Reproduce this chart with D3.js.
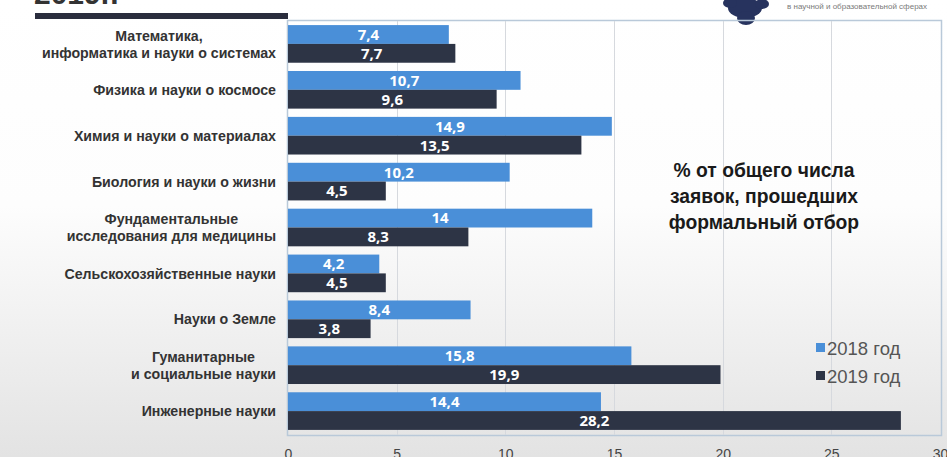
<!DOCTYPE html>
<html lang="ru">
<head>
<meta charset="utf-8">
<script src="https://cdn.jsdelivr.net/npm/d3@7"></script>
<style>
  html, body { margin: 0; padding: 0; background: #fff; }
  svg { display: block; }
</style>
</head>
<body>
<svg id="chart" width="947" height="457"></svg>
<script>
// Categories (each entry is a list of text lines), top to bottom
const categories = [
  ["Математика,", "информатика и науки о системах"],
  ["Физика и науки о космосе"],
  ["Химия и науки о материалах"],
  ["Биология и науки о жизни"],
  ["Фундаментальные", "исследования для медицины"],
  ["Сельскохозяйственные науки"],
  ["Науки о Земле"],
  ["Гуманитарные", "и социальные науки"],
  ["Инженерные науки"]
];
const values2018 = [7.4, 10.7, 14.9, 10.2, 14, 4.2, 8.4, 15.8, 14.4];
const values2019 = [7.7, 9.6, 13.5, 4.5, 8.3, 4.5, 3.8, 19.9, 28.2];
const seriesNames = ["2018 год", "2019 год"];
const xTicks = [0, 5, 10, 15, 20, 25, 30];
const noteLines = ["% от общего числа", "заявок, прошедших", "формальный отбор"];

const W = 947, H = 457;
const colors = ["#4a8fd8", "#2d3445"];
const fontFamily = "'Liberation Sans', Arial, sans-serif";

const svg = d3.select("#chart");

// Slide background: white fading to light grey toward the bottom
const defs = svg.append("defs");
const bg = defs.append("linearGradient").attr("id", "bgGrad")
  .attr("x1", 0).attr("y1", 0).attr("x2", 0).attr("y2", 1);
bg.append("stop").attr("offset", "0%").attr("stop-color", "#ffffff");
bg.append("stop").attr("offset", "45%").attr("stop-color", "#fdfdfd");
bg.append("stop").attr("offset", "100%").attr("stop-color", "#e3e3e3");
svg.append("rect").attr("width", W).attr("height", H).attr("fill", "url(#bgGrad)");

// Header pieces of the slide
svg.append("text").attr("x", 34).attr("y", 4)
  .attr("font-family", fontFamily).attr("font-weight", "bold").attr("font-size", 30)
  .attr("fill", "#333").text("2019г.");
svg.append("rect").attr("x", 35).attr("y", 13).attr("width", 253).attr("height", 6).attr("fill", "#2a2d3d");

// Emblem
const emb = svg.append("g").attr("fill", "#27335e");
emb.append("ellipse").attr("cx", 745).attr("cy", 8).attr("rx", 17).attr("ry", 10);
emb.append("ellipse").attr("cx", 746).attr("cy", 18).attr("rx", 9).attr("ry", 7);
emb.append("ellipse").attr("cx", 730).attr("cy", 3).attr("rx", 7).attr("ry", 5);
emb.append("ellipse").attr("cx", 762).attr("cy", 4).attr("rx", 7).attr("ry", 5);
svg.append("text").attr("x", 787).attr("y", 9)
  .attr("font-family", fontFamily).attr("font-size", 8).attr("fill", "#7a7a7a")
  .text("в научной и образовательной сферах");

// Scales
const x = d3.scaleLinear().domain([0, 30]).range([288, 940]);
const y = d3.scaleBand().domain(d3.range(categories.length))
  .range([20.5, 434.5]).paddingInner(0.18).paddingOuter(0.1);
const sub = d3.scaleBand().domain([0, 1]).range([0, y.bandwidth()]);

// Plot frame
svg.append("rect").attr("x", 287.5).attr("y", 20.5).attr("width", 654).attr("height", 415)
  .attr("fill", "none").attr("stroke", "#b9c9d9").attr("stroke-width", 1.5);

// Vertical gridlines
svg.append("g").selectAll("line").data(xTicks.filter(t => t > 0 && t < 30)).join("line")
  .attr("x1", d => Math.round(x(d)) + 0.5).attr("x2", d => Math.round(x(d)) + 0.5)
  .attr("y1", 21).attr("y2", 435)
  .attr("stroke", "#d6d9de").attr("stroke-width", 1);

// Bottom axis labels
const xAxis = d3.axisBottom(x).tickValues(xTicks).tickSize(0).tickPadding(0);
const axisG = svg.append("g").attr("transform", "translate(0,446)").call(xAxis);
axisG.select(".domain").remove();
axisG.selectAll("text").attr("font-family", fontFamily).attr("font-size", 14)
  .attr("fill", "#444").attr("dy", "0.9em");

// Bars
const rows = categories.map((c, i) => ({ i, vals: [values2018[i], values2019[i]] }));
const groups = svg.append("g").selectAll("g").data(rows).join("g")
  .attr("transform", d => `translate(0,${y(d.i)})`);
const fmt = v => String(v).replace(".", ",");

groups.selectAll("rect").data(d => d.vals.map((v, s) => ({ v, s }))).join("rect")
  .attr("x", x(0)).attr("y", d => sub(d.s))
  .attr("width", d => x(d.v) - x(0)).attr("height", sub.bandwidth())
  .attr("fill", d => colors[d.s]);

groups.selectAll("text.val").data(d => d.vals.map((v, s) => ({ v, s }))).join("text")
  .attr("class", "val")
  .attr("x", d => (x(0) + x(d.v)) / 2)
  .attr("y", d => sub(d.s) + sub.bandwidth() / 2)
  .attr("dy", "0.36em").attr("text-anchor", "middle")
  .attr("font-family", "'Open Sans', sans-serif").attr("font-weight", "bold").attr("font-size", 15)
  .attr("fill", "#fff").text(d => fmt(d.v));

// Category labels: lines centred on each other, block right-aligned to the axis
const labelRight = 276;
const labels = svg.append("g").selectAll("text").data(categories.map((c, i) => ({ c, i }))).join("text")
  .attr("font-family", fontFamily).attr("font-weight", "bold").attr("font-size", 14.2)
  .attr("fill", "#333").attr("text-anchor", "middle");
labels.each(function(d) {
  const t = d3.select(this);
  const n = d.c.length;
  const cy = y(d.i) + y.bandwidth() / 2;
  d.c.forEach((line, k) => {
    t.append("tspan").attr("y", cy + (k - (n - 1) / 2) * 17).attr("dy", "0.36em").text(line);
  });
  let maxW = 0;
  t.selectAll("tspan").each(function() { maxW = Math.max(maxW, this.getComputedTextLength()); });
  t.selectAll("tspan").attr("x", labelRight - maxW / 2);
});

// Note
svg.append("text").attr("text-anchor", "middle")
  .attr("font-family", fontFamily).attr("font-weight", "bold").attr("font-size", 19.3).attr("fill", "#1a1a1a")
  .selectAll("tspan").data(noteLines).join("tspan")
  .attr("x", 764).attr("y", (d, k) => 177 + k * 26).text(d => d);

// Legend
const leg = svg.append("g").selectAll("g").data(seriesNames).join("g")
  .attr("transform", (d, k) => `translate(816,${348 + k * 28})`);
leg.append("rect").attr("x", 0).attr("y", -5).attr("width", 9).attr("height", 9)
  .attr("fill", (d, k) => colors[k]);
leg.append("text").attr("x", 11).attr("y", 0).attr("dy", "0.36em")
  .attr("font-family", fontFamily).attr("font-size", 18.5).attr("fill", "#555").text(d => d);
</script>
</body>
</html>
